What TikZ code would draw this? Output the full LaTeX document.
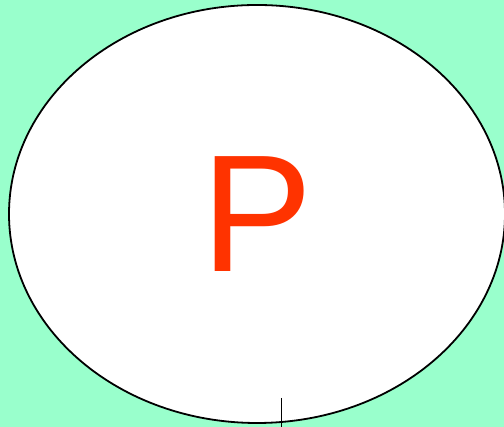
\documentclass[tikz,border=0pt]{standalone}
\usepackage{fontspec}
\setmainfont{Liberation Sans}
\usetikzlibrary{shapes.geometric}

\definecolor{mint}{HTML}{99FFCC}
\definecolor{letterred}{HTML}{FF3300}

\begin{document}
\begin{tikzpicture}[x=1pt, y=1pt, line width=1.8pt]
    \useasboundingbox (0, 0) rectangle (504, 427);
    \fill[mint] (0, 0) rectangle (504, 427);

    \node (oval) [draw, ellipse, fill=white, inner sep=0pt, minimum width=496pt, minimum height=418pt] at (257, 213) {};
    \node (p_letter) [text=letterred, inner sep=0pt, font=\fontsize{167}{167}\selectfont] at (257, 212.5) {P};

    \coordinate (tail_top) at (281.5, 29);
    \coordinate (tail_end) at (281.5, 0);
    \draw (tail_top) -- (tail_end);
\end{tikzpicture}
\end{document}
